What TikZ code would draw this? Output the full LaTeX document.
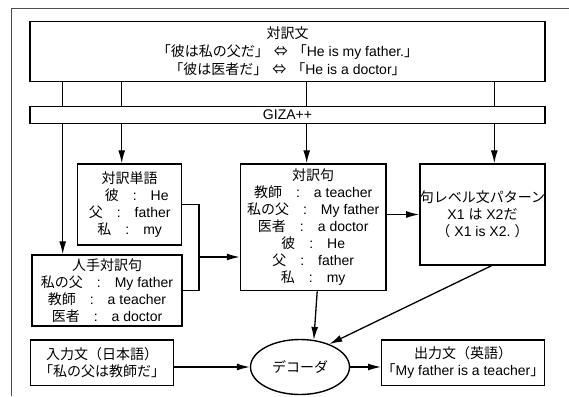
\documentclass[tikz,border=0pt]{standalone}
\usepackage{fontspec}
\setmainfont{Liberation Sans}
\newfontfamily\jp{Noto Sans CJK JP}
\usetikzlibrary{arrows.meta,shapes.geometric,calc}
\newcommand\J[1]{{\jp #1}}
\newcommand\cc{\hspace{14pt}:\hspace{14pt}}
\begin{document}
\begin{tikzpicture}[x=1pt,y=-1pt,
  box/.style={draw,line width=1.4pt,inner sep=0pt,align=center,font=\fontsize{14}{17}\selectfont},
  arr/.style={line width=1.3pt,-{Latex[length=13pt,width=7pt]}},
  ln/.style={line width=1.3pt}]
\useasboundingbox (0,0) rectangle (569,396);
\draw[black!70,line width=1pt] (11.7,396) -- (11.7,9) -- (569,9);

\node[box,minimum width=515pt,minimum height=60pt,font=\fontsize{14}{18}\selectfont] (tf) at (287.5,51.7)
  {\J{対訳文}\\ \J{「彼は私の父だ」}\hspace{5pt}\J{⇔}\hspace{5pt}\J{「}He is my father.\J{」}\\
   \J{「彼は医者だ」}\hspace{5pt}\J{⇔}\hspace{5pt}\J{「}He is a doctor\J{」}};
\node[box,minimum width=515pt,minimum height=16.6pt] (g) at (287.5,115) {GIZA++};

\node[box,minimum width=104pt,minimum height=81pt] (w) at (129.7,204.5)
  {\J{対訳単語}\\ \hspace*{14pt}\J{彼}\cc He\\ \J{父}\cc father\\ \J{私}\cc my};
\node[box,minimum width=150pt,minimum height=71pt] (h) at (107,290.5)
  {\J{人手対訳句}\\ \J{私の父}\cc My father\\ \J{教師}\cc a teacher\\ \J{医者}\cc a doctor};
\node[box,minimum width=145.5pt,minimum height=126.7pt] (p) at (313.2,227.3)
  {\J{対訳句}\\ \J{教師}\cc a teacher\\ \J{私の父}\cc My father\\ \J{医者}\cc a doctor\\
   \J{彼}\cc He\\ \J{父}\cc father\\ \J{私}\cc my};
\node[box,minimum width=123pt,minimum height=101pt] (q) at (482.5,214.5)
  {\J{句レベル文パターン}\\ X1 \J{は} X2\J{だ}\\ \J{（}\hspace{4pt}X1 is X2.\hspace{4pt}\J{）}};
\node[box,minimum width=142.6pt,minimum height=45.3pt] (i) at (102,362.7)
  {\J{入力文（日本語）}\\ \J{「私の父は教師だ」}};
\node[box,minimum width=162.6pt,minimum height=45.3pt] (o) at (463,362.7)
  {\J{出力文（英語）}\\ \J{「}My father is a teacher\J{」}};
\node[box,ellipse,minimum width=99pt,minimum height=55pt] (d) at (300,367) {\J{デコーダ}};

\foreach \x in {62.7,121.7,306.7,494.3}
  \draw[ln] (\x,0 |- tf.south) -- (\x,0 |- g.north);
\draw[arr] (62.7,0 |- g.south) -- (62.7,0 |- h.north);
\draw[arr] (121.7,0 |- g.south) -- (121.7,0 |- w.north);
\draw[arr] (306.7,0 |- g.south) -- (306.7,0 |- p.north);
\draw[arr] (494.3,0 |- g.south) -- (494.3,0 |- q.north);

\coordinate (j) at (199,257);
\draw[ln] (w.east) -| (j) |- (h.east);
\draw[arr] (j) -- (p.west |- j);
\draw[arr] (p.east |- q.west) -- (q.west);
\draw[arr] ([xshift=4pt]p.south) -- (d.63);
\draw[arr] ([xshift=9pt]q.south) -- (d.38);
\draw[arr] (i.east |- d.west) -- (d.west);
\draw[arr] (d.east) -- (o.west |- d.east);
\end{tikzpicture}
\end{document}
